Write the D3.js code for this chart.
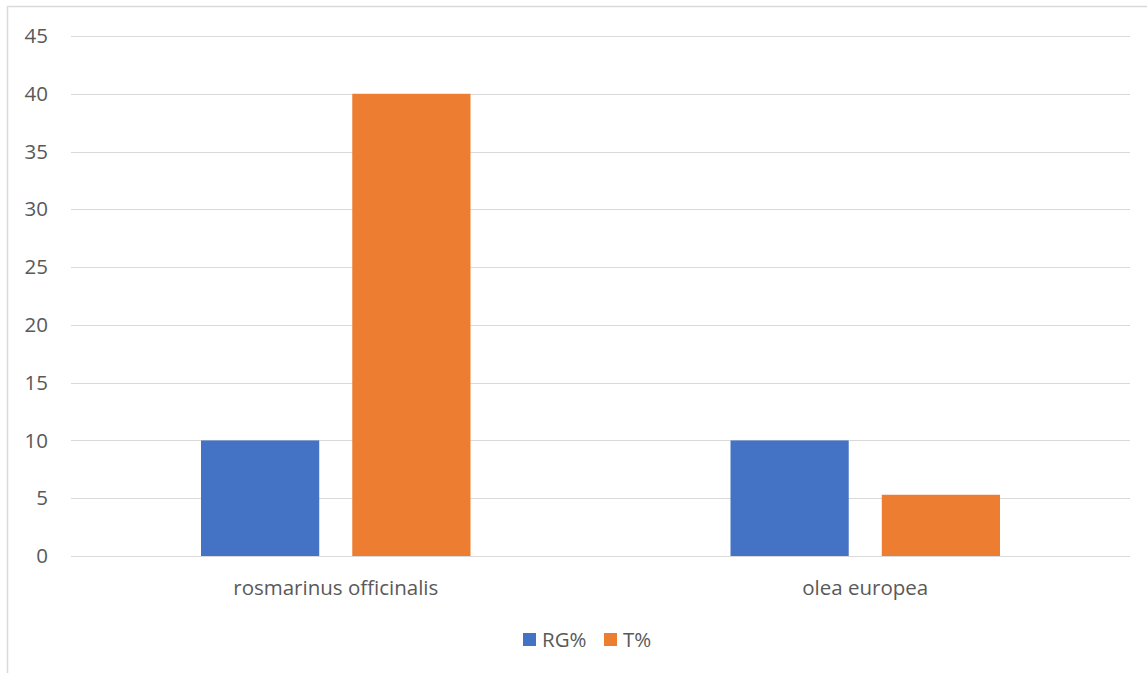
<!DOCTYPE html>
<html>
<head>
<meta charset="utf-8">
<script src="https://cdn.jsdelivr.net/npm/d3@7"></script>
<style>
  html, body { margin: 0; padding: 0; background: #fff; }
  svg { display: block; }
  text { font-family: "Open Sans", "Liberation Sans", sans-serif; fill: #595959; }
</style>
</head>
<body>
<div id="chart"></div>
<script>
const categories = ["rosmarinus officinalis", "olea europea"];
const seriesNames = ["RG%", "T%"];
const rgValues = [10, 10];
const tValues = [40, 5.3];
const yTicks = [0, 5, 10, 15, 20, 25, 30, 35, 40, 45];
const colors = ["#4472C4", "#ED7D31"];

(function () {
const W = 1147, H = 673;
const FS = 20.5;
const svg = d3.select("#chart").append("svg").attr("width", W).attr("height", H);

// chart border
svg.append("rect").attr("x", 7.5).attr("y", 6.5).attr("width", W + 10).attr("height", H + 10)
  .attr("fill", "none").attr("stroke", "#D9D9D9").attr("stroke-width", 1.5);

const pLeft = 71, pRight = 1130, pTop = 36, pBottom = 556;

const y = d3.scaleLinear().domain([0, 45]).range([pBottom, pTop]);
const x0 = d3.scaleBand().domain(categories).range([pLeft, pRight]).padding(0);
const inner = 130;
const x1 = d3.scaleBand().domain(seriesNames)
  .range([inner, x0.bandwidth() - inner]).paddingInner(0.2185).paddingOuter(0);

// gridlines
svg.append("g").selectAll("line").data(yTicks).join("line")
  .attr("x1", pLeft).attr("x2", pRight)
  .attr("y1", d => Math.round(y(d)) + 0.5).attr("y2", d => Math.round(y(d)) + 0.5)
  .attr("stroke", "#D9D9D9").attr("stroke-width", 1.2);

// y axis labels
const yAxis = d3.axisLeft(y).tickValues(yTicks).tickSize(0).tickPadding(0);
const gy = svg.append("g").attr("transform", `translate(48,0)`).call(yAxis);
gy.select(".domain").remove();
gy.selectAll("text").attr("font-size", FS).attr("font-family", "'Open Sans', sans-serif").attr("fill", "#595959");

// bars
const data = categories.map((c, i) => ({ cat: c, vals: [rgValues[i], tValues[i]] }));
const groups = svg.append("g").selectAll("g").data(data).join("g")
  .attr("transform", d => `translate(${x0(d.cat)},0)`);
groups.selectAll("rect").data(d => d.vals.map((v, j) => ({ s: seriesNames[j], v, j })))
  .join("rect")
  .attr("x", d => x1(d.s)).attr("width", x1.bandwidth())
  .attr("y", d => y(d.v)).attr("height", d => y(0) - y(d.v))
  .attr("fill", d => colors[d.j]);

// x axis labels
const xAxis = d3.axisBottom(x0).tickSize(0).tickPadding(0);
const gx = svg.append("g").attr("transform", `translate(0,595)`).call(xAxis);
gx.select(".domain").remove();
gx.selectAll("text").attr("y", 0).attr("dy", 0).attr("font-size", FS)
  .attr("font-family", "'Open Sans', sans-serif").attr("fill", "#595959");

// legend
const legend = svg.append("g").attr("transform", "translate(523,633)");
const legX = [0, 81];
seriesNames.forEach((s, i) => {
  const g = legend.append("g").attr("transform", `translate(${legX[i]},0)`);
  g.append("rect").attr("width", 13).attr("height", 13).attr("fill", colors[i]);
  g.append("text").attr("x", 19).attr("y", 14).attr("font-size", FS).text(s);
});
})();
</script>
</body>
</html>
